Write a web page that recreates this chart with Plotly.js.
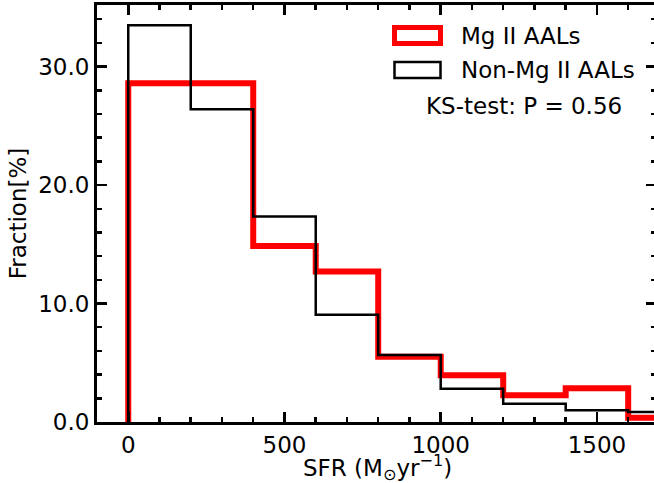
<!DOCTYPE html>
<html>
<head>
<meta charset="utf-8">
<script src="https://cdn.plot.ly/plotly-3.0.1.min.js"></script>
<style>
html,body{margin:0;padding:0;overflow:hidden;background:#fff;}
#chart{width:658px;height:483px;}
</style>
</head>
<body>
<div id="chart"></div>
<script>
// Bin edges (SFR, Msun/yr) and histogram fractions (%)
const binEdges = [0, 200, 400, 600, 800, 1000, 1200, 1400, 1600, 1800];
const mgiiFraction = [28.6, 28.6, 14.85, 12.7, 5.5, 3.95, 2.25, 2.85, 0.35];
const nonMgiiFraction = [33.5, 26.4, 17.35, 9.05, 5.65, 2.8, 1.55, 1.0, 0.85];
const seriesNames = ["Mg II AALs", "Non-Mg II AALs"];
const ksText = "KS-test: P = 0.56";
const xTitle = "SFR (M<sub>\u2299</sub>yr<sup>\u22121</sup>)";
const yTitle = "Fraction[%]";

function stepOutline(edges, vals) {
  const xs = [edges[0]], ys = [0];
  for (let i = 0; i < vals.length; i++) {
    xs.push(edges[i]); ys.push(vals[i]);
    xs.push(edges[i + 1]); ys.push(vals[i]);
  }
  xs.push(edges[edges.length - 1]); ys.push(0);
  return {x: xs, y: ys};
}

const FONT = "DejaVu Sans, sans-serif";
const FS = 23;
const red = stepOutline(binEdges, mgiiFraction);
const blk = stepOutline(binEdges, nonMgiiFraction);

const traces = [
  {x: red.x, y: red.y, type: "scatter", mode: "lines", name: seriesNames[0],
   line: {color: "#ff0000", width: 6}, showlegend: false, hoverinfo: "skip"},
  {x: blk.x, y: blk.y, type: "scatter", mode: "lines", name: seriesNames[1],
   line: {color: "#000000", width: 2.5}, showlegend: false, hoverinfo: "skip"}
];

function pxX(px) { return (px - 97) / 559; }
function pxY(py) { return (422 - py) / 417; }

const layout = {
  width: 658, height: 483,
  margin: {l: 97, r: 2, t: 5, b: 61},
  paper_bgcolor: "#fff", plot_bgcolor: "#fff",
  font: {family: FONT, size: FS, color: "#000"},
  showlegend: false,
  xaxis: {
    range: [-100, 1689], tick0: 0, dtick: 500, tickformat: "d",
    ticks: "inside", ticklen: 10, tickwidth: 2.5, tickcolor: "#000",
    showline: true, linewidth: 3, linecolor: "#000", mirror: "allticks",
    minor: {dtick: 100, ticks: "inside", ticklen: 5, tickwidth: 2.5, tickcolor: "#000"},
    showgrid: false, zeroline: false,
    tickfont: {family: FONT, size: FS, color: "#000"}
  },
  yaxis: {
    range: [0, 35.2], tick0: 0, dtick: 10, tickformat: ".1f",
    ticks: "inside", ticklen: 10, tickwidth: 2.5, tickcolor: "#000",
    showline: true, linewidth: 3, linecolor: "#000", mirror: "allticks",
    minor: {dtick: 2, ticks: "inside", ticklen: 5, tickwidth: 2.5, tickcolor: "#000"},
    showgrid: false, zeroline: false,
    tickfont: {family: FONT, size: FS, color: "#000"},
    title: {text: yTitle, font: {family: FONT, size: FS, color: "#000"}, standoff: 6}
  },
  shapes: [
    {type: "rect", xref: "paper", yref: "paper",
     x0: pxX(394.5), x1: pxX(440.5), y0: pxY(43.5), y1: pxY(27.5),
     line: {color: "#ff0000", width: 5}, fillcolor: "#fff"},
    {type: "rect", xref: "paper", yref: "paper",
     x0: pxX(394.5), x1: pxX(440.5), y0: pxY(78), y1: pxY(62),
     line: {color: "#000", width: 2.5}, fillcolor: "#fff"}
  ],
  annotations: [
    {xref: "paper", yref: "paper", x: pxX(459), y: pxY(36), xanchor: "left", yanchor: "middle",
     text: seriesNames[0], showarrow: false, font: {family: FONT, size: FS, color: "#000"}},
    {xref: "paper", yref: "paper", x: pxX(459), y: pxY(70), xanchor: "left", yanchor: "middle",
     text: seriesNames[1], showarrow: false, font: {family: FONT, size: FS, color: "#000"}},
    {xref: "paper", yref: "paper", x: pxX(523.5), y: pxY(106), xanchor: "center", yanchor: "middle",
     text: ksText, showarrow: false, font: {family: FONT, size: FS, color: "#000"}},
    {xref: "paper", yref: "paper", x: pxX(377), y: pxY(467), xanchor: "center", yanchor: "middle",
     text: xTitle, showarrow: false, font: {family: FONT, size: FS, color: "#000"}}
  ]
};

Plotly.newPlot("chart", traces, layout, {displayModeBar: false, staticPlot: true});
</script>
</body>
</html>
